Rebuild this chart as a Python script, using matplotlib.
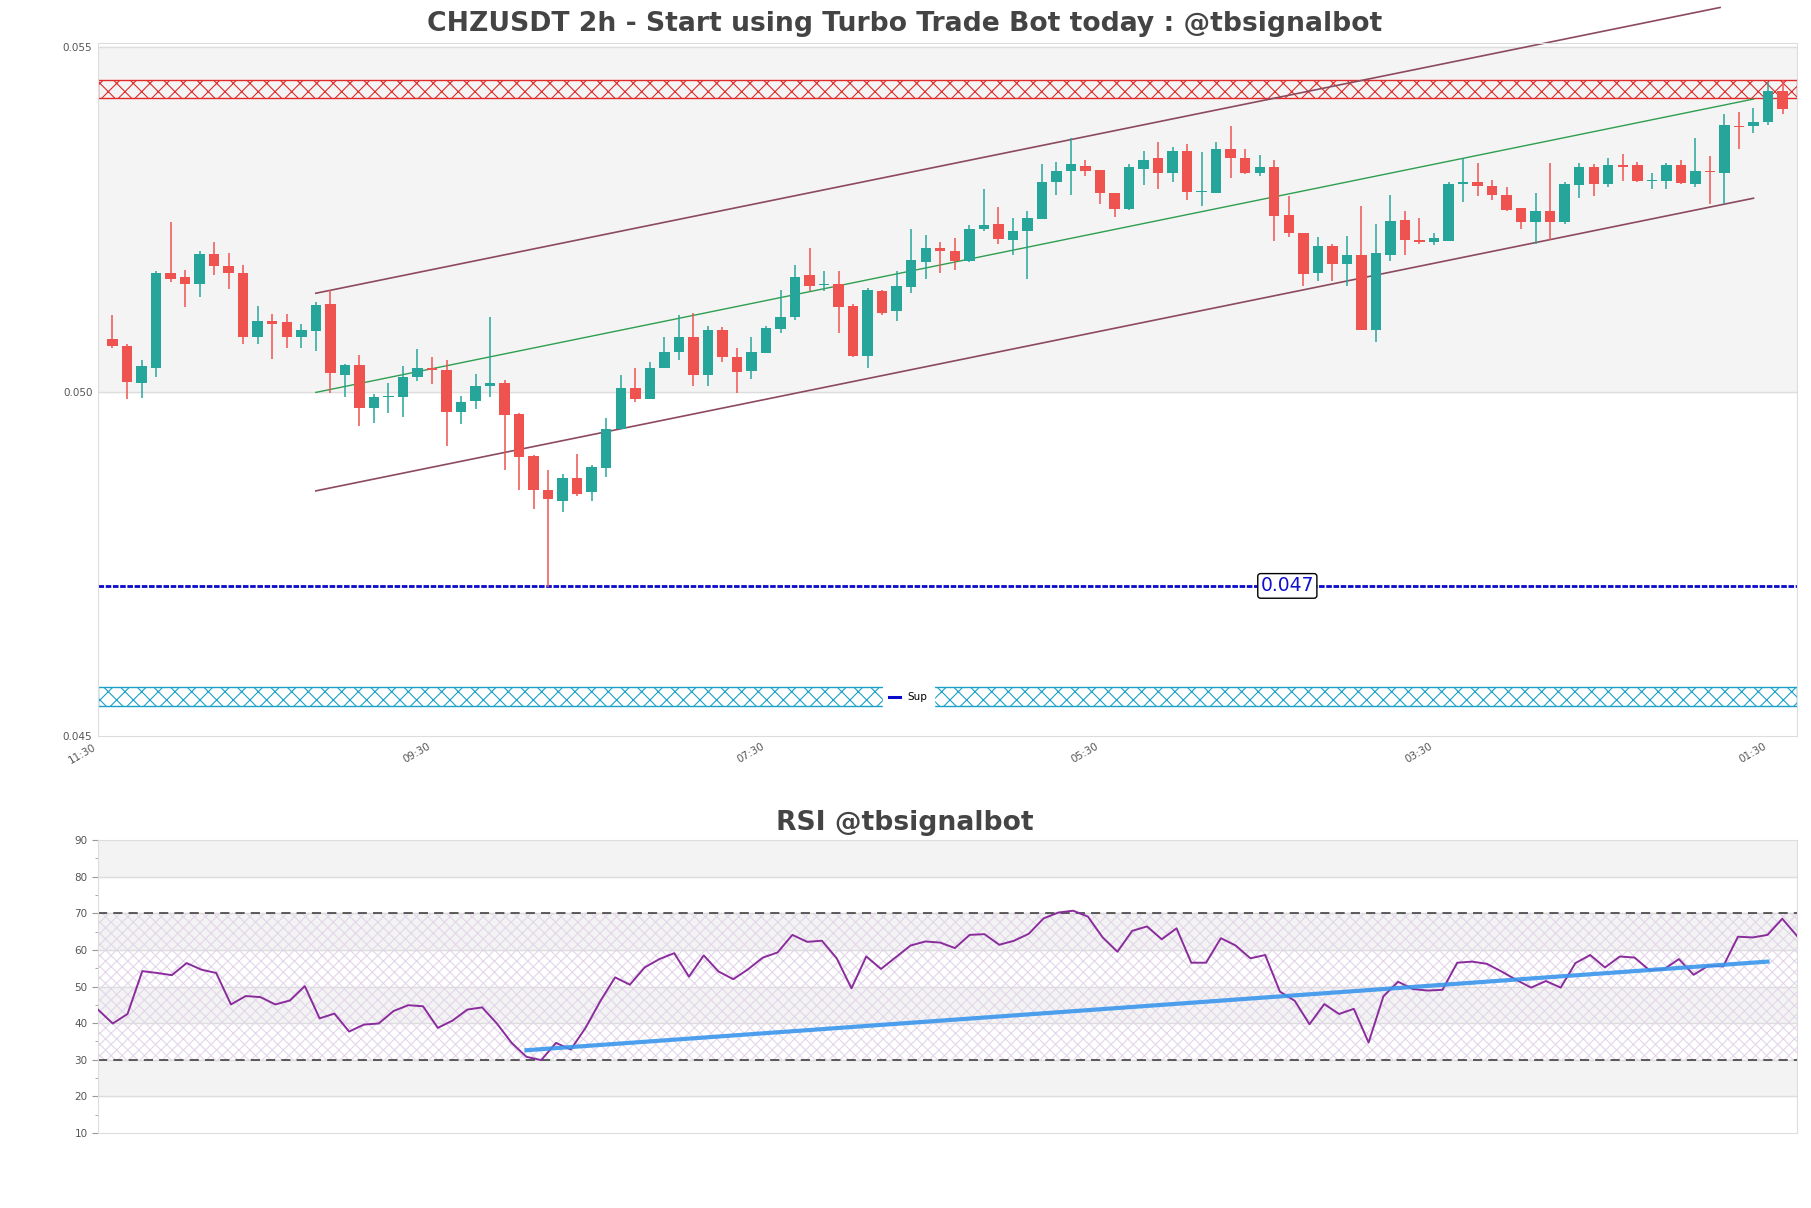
import matplotlib.pyplot as plt
import matplotlib.transforms as mtransforms
from matplotlib.lines import Line2D
import numpy as np

plt.rcParams['hatch.linewidth'] = 0.8

## data: 2h candles (price)
opens = [0.05077, 0.05067, 0.05012, 0.05034, 0.05173, 0.05166, 0.05157, 0.05200, 0.05183, 0.05173,
         0.05079, 0.05103, 0.05101, 0.05079, 0.05088, 0.05128, 0.05024, 0.05039, 0.04977, 0.04993,
         0.04993, 0.05021, 0.05034, 0.05032, 0.04971, 0.04986, 0.05008, 0.05012, 0.04967, 0.04906,
         0.04858, 0.04842, 0.04875, 0.04854, 0.04889, 0.04946, 0.05006, 0.04990, 0.05034, 0.05057,
         0.05079, 0.05024, 0.05089, 0.05051, 0.05030, 0.05056, 0.05091, 0.05108, 0.05169, 0.05155,
         0.05157, 0.05124, 0.05052, 0.05146, 0.05117, 0.05152, 0.05189, 0.05208, 0.05205, 0.05190,
         0.05236, 0.05244, 0.05220, 0.05233, 0.05251, 0.05304, 0.05320, 0.05328, 0.05322, 0.05289,
         0.05266, 0.05323, 0.05340, 0.05317, 0.05350, 0.05290, 0.05288, 0.05352, 0.05340, 0.05317,
         0.05327, 0.05256, 0.05231, 0.05172, 0.05211, 0.05186, 0.05199, 0.05090, 0.05199, 0.05250,
         0.05221, 0.05218, 0.05219, 0.05301, 0.05304, 0.05299, 0.05286, 0.05267, 0.05246, 0.05262,
         0.05246, 0.05300, 0.05327, 0.05301, 0.05329, 0.05329, 0.05306, 0.05306, 0.05329, 0.05301,
         0.05321, 0.05318, 0.05386, 0.05386, 0.05391, 0.05436]
highs = [0.05112, 0.05070, 0.05046, 0.05176, 0.05247, 0.05177, 0.05205, 0.05218, 0.05202, 0.05184,
         0.05125, 0.05113, 0.05113, 0.05099, 0.05131, 0.05147, 0.05040, 0.05054, 0.04996, 0.05013,
         0.05038, 0.05062, 0.05050, 0.05046, 0.04994, 0.05026, 0.05108, 0.05017, 0.04969, 0.04908,
         0.04887, 0.04881, 0.04910, 0.04894, 0.04962, 0.05025, 0.05035, 0.05043, 0.05080, 0.05111,
         0.05114, 0.05096, 0.05094, 0.05064, 0.05079, 0.05096, 0.05148, 0.05184, 0.05208, 0.05175,
         0.05176, 0.05128, 0.05150, 0.05148, 0.05175, 0.05236, 0.05227, 0.05218, 0.05223, 0.05242,
         0.05295, 0.05268, 0.05252, 0.05263, 0.05330, 0.05334, 0.05369, 0.05337, 0.05322, 0.05289,
         0.05331, 0.05349, 0.05363, 0.05355, 0.05360, 0.05348, 0.05363, 0.05386, 0.05352, 0.05344,
         0.05337, 0.05284, 0.05231, 0.05224, 0.05215, 0.05226, 0.05269, 0.05243, 0.05285, 0.05263,
         0.05253, 0.05231, 0.05305, 0.05339, 0.05332, 0.05308, 0.05298, 0.05267, 0.05289, 0.05332,
         0.05305, 0.05332, 0.05330, 0.05339, 0.05345, 0.05334, 0.05318, 0.05332, 0.05336, 0.05368,
         0.05342, 0.05403, 0.05406, 0.05412, 0.05450, 0.05452]
lows = [0.05063, 0.04990, 0.04991, 0.05021, 0.05159, 0.05123, 0.05137, 0.05169, 0.05149, 0.05069,
        0.05069, 0.05048, 0.05064, 0.05064, 0.05059, 0.04998, 0.04992, 0.04950, 0.04955, 0.04969,
        0.04964, 0.05015, 0.05011, 0.04921, 0.04953, 0.04975, 0.04992, 0.04886, 0.04858, 0.04830,
        0.04717, 0.04826, 0.04849, 0.04841, 0.04876, 0.04946, 0.04985, 0.04990, 0.05034, 0.05046,
        0.05008, 0.05008, 0.05043, 0.04998, 0.05019, 0.05056, 0.05085, 0.05104, 0.05146, 0.05146,
        0.05086, 0.05050, 0.05034, 0.05112, 0.05103, 0.05143, 0.05164, 0.05173, 0.05177, 0.05188,
        0.05234, 0.05214, 0.05199, 0.05164, 0.05251, 0.05285, 0.05285, 0.05313, 0.05273, 0.05254,
        0.05264, 0.05300, 0.05295, 0.05304, 0.05279, 0.05270, 0.05288, 0.05310, 0.05316, 0.05313,
        0.05219, 0.05224, 0.05153, 0.05161, 0.05161, 0.05153, 0.05089, 0.05072, 0.05190, 0.05198,
        0.05214, 0.05213, 0.05219, 0.05275, 0.05284, 0.05278, 0.05263, 0.05237, 0.05215, 0.05221,
        0.05244, 0.05282, 0.05284, 0.05298, 0.05306, 0.05305, 0.05294, 0.05295, 0.05302, 0.05298,
        0.05273, 0.05273, 0.05353, 0.05375, 0.05387, 0.05403]
closes = [0.05066, 0.05014, 0.05038, 0.05173, 0.05163, 0.05157, 0.05200, 0.05182, 0.05172, 0.05079,
          0.05103, 0.05099, 0.05079, 0.05089, 0.05126, 0.05027, 0.05039, 0.04976, 0.04993, 0.04994,
          0.05022, 0.05034, 0.05031, 0.04971, 0.04985, 0.05009, 0.05012, 0.04966, 0.04905, 0.04858,
          0.04844, 0.04875, 0.04852, 0.04890, 0.04946, 0.05006, 0.04989, 0.05034, 0.05058, 0.05080,
          0.05024, 0.05089, 0.05050, 0.05028, 0.05057, 0.05092, 0.05109, 0.05167, 0.05153, 0.05157,
          0.05123, 0.05052, 0.05147, 0.05115, 0.05153, 0.05192, 0.05208, 0.05204, 0.05190, 0.05237,
          0.05242, 0.05222, 0.05234, 0.05253, 0.05304, 0.05321, 0.05330, 0.05320, 0.05288, 0.05266,
          0.05326, 0.05337, 0.05317, 0.05350, 0.05290, 0.05291, 0.05353, 0.05339, 0.05317, 0.05327,
          0.05255, 0.05230, 0.05171, 0.05212, 0.05186, 0.05199, 0.05090, 0.05202, 0.05248, 0.05221,
          0.05217, 0.05223, 0.05302, 0.05305, 0.05299, 0.05285, 0.05264, 0.05246, 0.05262, 0.05246,
          0.05302, 0.05327, 0.05301, 0.05329, 0.05327, 0.05306, 0.05307, 0.05329, 0.05303, 0.05321,
          0.05319, 0.05387, 0.05384, 0.05392, 0.05436, 0.05410]

# x tick labels (time of day)
tick_pos = [-1, 22, 45, 68, 91, 114]
tick_labels = ['11:30', '09:30', '07:30', '05:30', '03:30', '01:30']

# channel lines (candle index, price)
upper_x = [14, 110.7]
upper_y = [0.05143, 0.05558]
mid_x = [14, 113]
mid_y = [0.04999, 0.05425]
lower_x = [14, 113]
lower_y = [0.04856, 0.05281]

# zones and support level
res_zone = [0.05426, 0.05452]
sup_zone = [0.04544, 0.04571]
sup_level = 0.04718

## data: RSI
rsi = [43.7, 39.9, 42.5, 54.2, 53.7, 53.1, 56.4, 54.6, 53.7, 45.1,
       47.4, 47.1, 45.1, 46.2, 50.1, 41.3, 42.6, 37.7, 39.6, 39.9,
       43.3, 44.9, 44.6, 38.7, 40.7, 43.7, 44.3, 39.9, 34.6, 30.8,
       29.9, 34.6, 32.8, 38.7, 46.0, 52.5, 50.5, 55.2, 57.5, 59.1,
       52.7, 58.5, 54.1, 52.0, 54.7, 57.9, 59.3, 64.1, 62.2, 62.5,
       57.7, 49.5, 58.2, 54.8, 58.0, 61.2, 62.3, 62.0, 60.5, 64.1,
       64.3, 61.4, 62.5, 64.4, 68.6, 70.2, 70.7, 69.1, 63.4, 59.5,
       65.2, 66.4, 62.9, 65.9, 56.5, 56.5, 63.2, 61.2, 57.7, 58.6,
       48.6, 46.1, 39.7, 45.2, 42.5, 43.9, 34.7, 47.3, 51.3, 49.3,
       48.9, 49.1, 56.5, 56.8, 56.2, 54.1, 51.8, 49.7, 51.5, 49.7,
       56.4, 58.6, 55.2, 58.2, 57.9, 54.5, 54.7, 57.5, 53.2, 55.7,
       55.5, 63.6, 63.4, 64.1, 68.5, 63.8]
rsi_trend_x = [29, 113]
rsi_trend_y = [32.6, 56.8]

up_color = '#26a69a'
down_color = '#ef5350'
title_color = '#444444'
label_color = '#555555'
spine_color = '#dddddd'
band_color = '#f4f4f4'
sup_color = '#0a0acc'

fig = plt.figure(figsize=(18.11, 12.08), dpi=100)

## price chart
ax = fig.add_axes([0.0541, 0.3907, 0.9382, 0.5737])
ax.set_xlim(-1, 116)
ax.set_ylim(0.045, 0.055064)
ax.axhspan(0.050, 0.055, color=band_color, zorder=0)
ax.axhline(0.050, color=spine_color, lw=1, zorder=0.5)
ax.axhline(0.055, color=spine_color, lw=1, zorder=0.5)

o = np.array(opens)
h = np.array(highs)
l = np.array(lows)
c = np.array(closes)
x = np.arange(len(o))
colors = np.where(c >= o, up_color, down_color)
ax.vlines(x, l, h, colors=colors, lw=1.1, zorder=3)
body = np.maximum(np.abs(c - o), 0.000015)
ax.bar(x, body, bottom=np.minimum(o, c), width=0.72, color=colors, zorder=3)

# channel
ax.plot(upper_x, upper_y, color='#8c4a5e', lw=1.2, zorder=2, clip_on=False)
ax.plot(mid_x, mid_y, color='#2e9e4f', lw=1.0, zorder=2)
ax.plot(lower_x, lower_y, color='#8c4a5e', lw=1.2, zorder=2)

# resistance / support zones
ax.axhspan(res_zone[0], res_zone[1], facecolor='none', edgecolor='#e02a2a',
           hatch='xx', lw=1, zorder=1)
ax.axhspan(sup_zone[0], sup_zone[1], facecolor='none', edgecolor='#1aa0c8',
           hatch='xx', lw=1, zorder=1)

# support line
ax.axhline(sup_level, color=sup_color, lw=2, ls=(0, (2, 0.6)), zorder=2)
trans = mtransforms.blended_transform_factory(ax.transAxes, ax.transData)
ax.text(0.70, sup_level, '%.3f' % sup_level, transform=trans, ha='center', va='center',
        fontsize=13.5, color='#1010cc', zorder=5,
        bbox=dict(boxstyle='round,pad=0.15', facecolor='white', edgecolor='black', lw=1))
sup_handle = Line2D([], [], color=sup_color, lw=2.2)
leg = ax.legend([sup_handle], ['Sup'], loc='center', bbox_to_anchor=(0.477, 0.056),
                fontsize=7.5, handlelength=1.0, frameon=True, framealpha=1,
                edgecolor='white', facecolor='white', borderpad=0.6)
leg.set_zorder(6)

ax.set_yticks([0.045, 0.050, 0.055])
ax.set_yticklabels(['0.045', '0.050', '0.055'])
ax.set_xticks(tick_pos)
ax.set_xticklabels(tick_labels, rotation=30, ha='right')
ax.tick_params(axis='both', labelsize=7.5, labelcolor=label_color, length=0, pad=4)
for s in ax.spines.values():
    s.set_color(spine_color)
ax.set_title('CHZUSDT 2h - Start using Turbo Trade Bot today : @tbsignalbot',
             fontsize=19.2, fontweight='bold', color=title_color, pad=9, x=0.475)

## RSI chart
ax2 = fig.add_axes([0.0541, 0.0621, 0.9382, 0.2425])
ax2.set_xlim(0, len(rsi) - 1)
ax2.set_ylim(10, 90)
for lo in [20, 40, 60, 80]:
    ax2.axhspan(lo, lo + 10, color='#f3f3f3', zorder=0)
for g in range(20, 90, 10):
    ax2.axhline(g, color=spine_color, lw=1, zorder=0.5)
ax2.fill_between([0, len(rsi) - 1], 30, 70, facecolor='none', edgecolor='#e3d6ea',
                 hatch='xxx', lw=0, zorder=0.8)
ax2.axhline(30, color='#333333', lw=1.1, ls=(0, (6, 4)), zorder=1)
ax2.axhline(70, color='#333333', lw=1.1, ls=(0, (6, 4)), zorder=1)
ax2.plot(np.arange(len(rsi)), rsi, color='#8a2c9c', lw=1.4, zorder=3)
ax2.plot(rsi_trend_x, rsi_trend_y, color='#3a96ec', lw=3, alpha=0.9, zorder=4)

ax2.set_yticks(range(10, 91, 10))
ax2.set_yticks(range(15, 90, 10), minor=True)
ax2.set_xticks([])
ax2.tick_params(axis='y', which='major', labelsize=7.5, labelcolor=label_color,
                color='#999999', length=4)
ax2.tick_params(axis='y', which='minor', color='#999999', length=2)
for s in ax2.spines.values():
    s.set_color(spine_color)
ax2.set_title('RSI @tbsignalbot', fontsize=19.2, fontweight='bold', color=title_color,
              pad=7, x=0.475)

fig.savefig('out.png', dpi=100)
